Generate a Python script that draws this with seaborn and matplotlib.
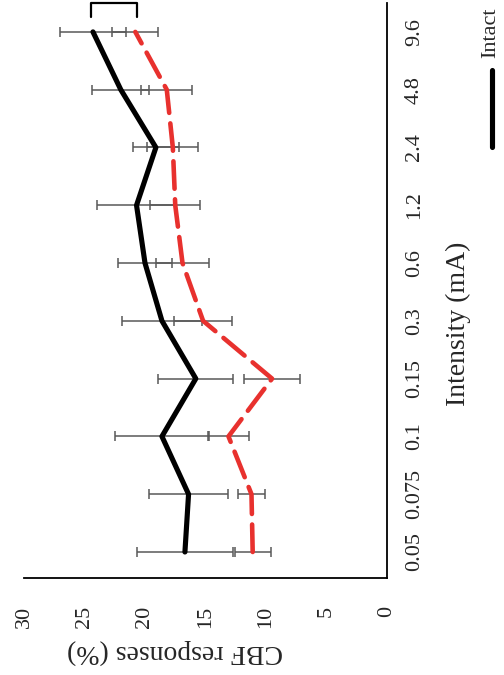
import numpy as np
import matplotlib
matplotlib.use("Agg")
import matplotlib.pyplot as plt
import seaborn as sns

# --- DATA ---
intensidades = ['0.05', '0.075', '0.1', '0.15', '0.3', '0.6', '1.2', '2.4', '4.8', '9.6']
intact = [16.7, 16.4, 18.6, 15.8, 18.6, 20.0, 20.7, 19.1, 22.0, 24.3]
intact_err = [3.95, 3.3, 3.9, 3.1, 3.3, 2.25, 3.3, 1.9, 2.35, 2.7]
lesion = [11.1, 11.2, 13.1, 9.5, 15.2, 16.9, 17.5, 17.7, 18.2, 20.8]
lesion_err = [1.5, 1.15, 1.7, 2.35, 2.4, 2.2, 2.05, 2.1, 2.1, 1.9]
valor_ticks = [0, 5, 10, 15, 20, 25, 30]

# --- STYLE ---
sns.set_style("white")
plt.rcParams['font.family'] = ['Liberation Serif', 'DejaVu Serif']

pos = np.arange(len(intensidades))

fig = plt.figure(figsize=(5.04, 6.75), dpi=100)
ax = fig.add_axes([24/504, 1 - 578/675, 363/504, 575/675])

# error bars (under the lines)
cor_barra = '#595959'
ax.errorbar(intact, pos, xerr=intact_err, fmt='none', ecolor=cor_barra,
            elinewidth=1.1, capsize=3.3, capthick=1.1, zorder=1)
ax.errorbar(lesion, pos, xerr=lesion_err, fmt='none', ecolor=cor_barra,
            elinewidth=1.1, capsize=3.3, capthick=1.1, zorder=1)

# lines (chart is shown rotated: values on x, intensities on y)
sns.lineplot(x=lesion, y=pos, orient='y', sort=False, ax=ax, color='#e8312e',
             linewidth=3.3, zorder=2)
ax.lines[-1].set_dashes((6, 2.3))
ax.lines[-1].set_dash_capstyle('round')
sns.lineplot(x=intact, y=pos, orient='y', sort=False, ax=ax, color='black',
             linewidth=3.7, zorder=3)

# significance bracket at 9.6
ax.plot([24.5, 24.5, 20.7, 20.7], [9.26, 9.5, 9.5, 9.26], color='black',
        linewidth=1.6, clip_on=False, zorder=4)

# axes
ax.set_xlim(30, 0)
ax.set_ylim(-0.45, 9.5)
ax.set_xticks(valor_ticks)
ax.set_xticklabels([str(v) for v in valor_ticks], rotation=90, fontsize=16)
ax.set_yticks(pos)
ax.set_yticklabels(intensidades, rotation=90, fontsize=16, va='center')
ax.yaxis.tick_right()
ax.tick_params(axis='x', length=0, pad=20)
ax.tick_params(axis='y', length=0, pad=13)

for lado in ['left', 'top']:
    ax.spines[lado].set_visible(False)
for lado in ['right', 'bottom']:
    ax.spines[lado].set_color('black')
    ax.spines[lado].set_linewidth(1.3)

ax.set_xlabel("CBF responses (%)", fontsize=20, rotation=180, va='center', ha='center')
ax.xaxis.set_label_coords((175 - 24) / 363, -(652 - 578) / 575)
ax.yaxis.set_label_position('right')
ax.set_ylabel("Intensity (mA)", fontsize=20, rotation=90, va='center', ha='center')
ax.yaxis.set_label_coords((458 - 24) / 363, (578 - 324) / 575)

# legend key (only the "Intact" entry is visible in the cropped figure)
fig.add_artist(plt.Line2D([492/504, 492/504], [1 - 147/675, 1 - 70/675],
                          color='black', linewidth=3.7, solid_capstyle='round'))
fig.text(491/504, 1 - 33/675, "Intact", rotation=90, fontsize=16,
         ha='center', va='center')

fig.savefig("out.png", dpi=100)
